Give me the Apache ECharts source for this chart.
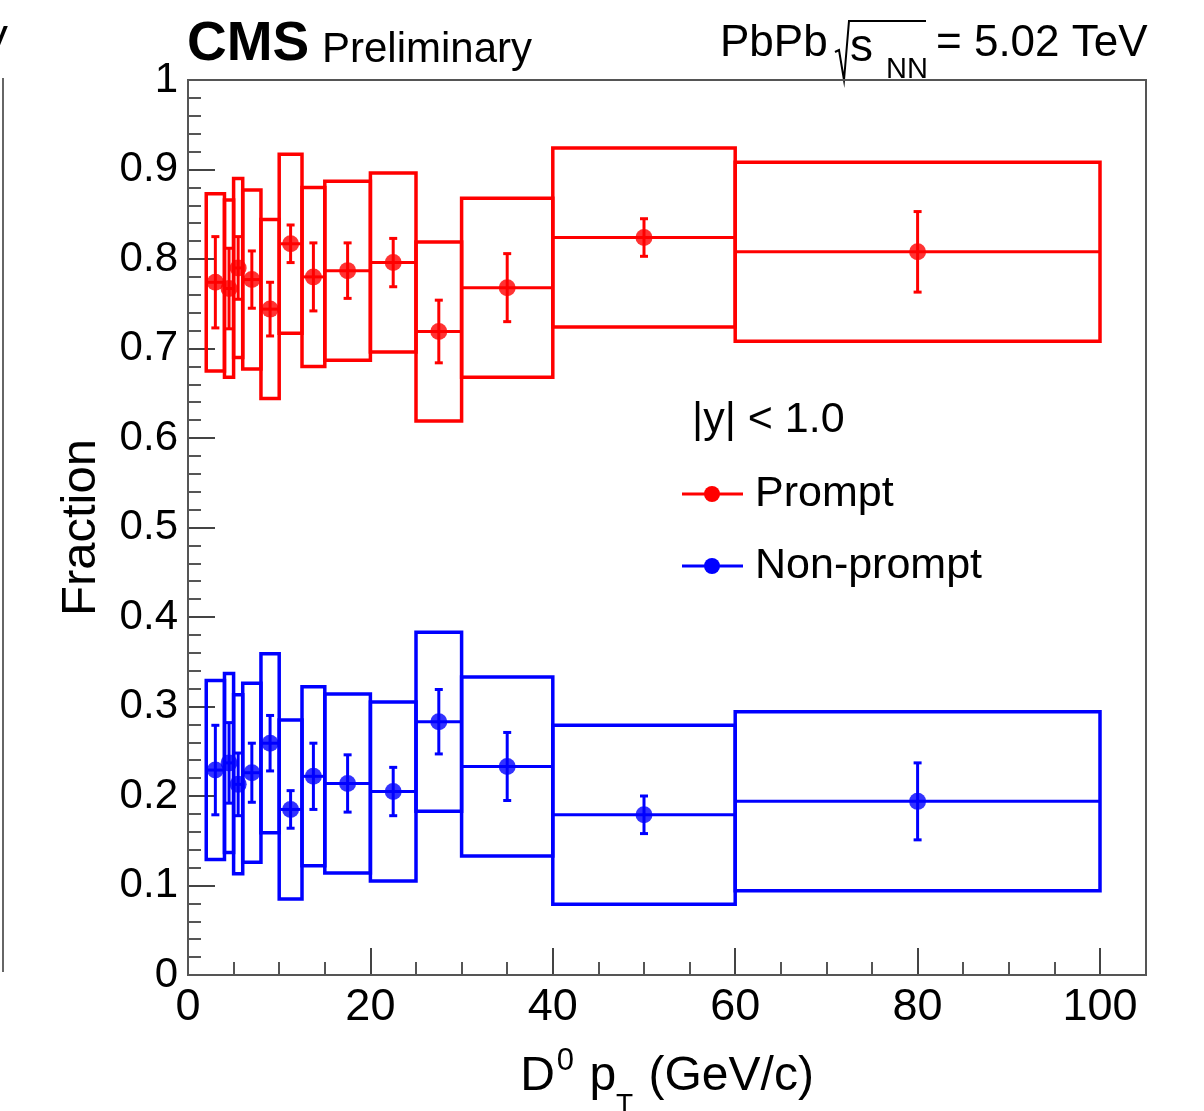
<!DOCTYPE html>
<html><head><meta charset="utf-8">
<script src="https://cdn.jsdelivr.net/npm/echarts@6/dist/echarts.min.js"></script>
<style>html,body{margin:0;padding:0;background:#fff}#c{width:1204px;height:1111px}</style>
</head><body><div id="c"></div>
<script>
// pT bins (GeV/c)
const binLow  = [2, 4, 5, 6, 8, 10, 12.5, 15, 20, 25, 30, 40, 60];
const binHigh = [4, 5, 6, 8, 10, 12.5, 15, 20, 25, 30, 40, 60, 100];
// Prompt fraction: value, statistical error, systematic error
const promptVal  = [0.774, 0.767, 0.790, 0.777, 0.744, 0.817, 0.780, 0.787, 0.796, 0.719, 0.768, 0.824, 0.808];
const promptStat = [0.051, 0.045, 0.035, 0.032, 0.030, 0.021, 0.038, 0.031, 0.027, 0.035, 0.038, 0.021, 0.045];
const promptSys  = [0.099, 0.099, 0.100, 0.100, 0.100, 0.100, 0.100, 0.100, 0.100, 0.100, 0.100, 0.100, 0.100];
// Non-prompt fraction
const nonpromptVal  = [0.229, 0.237, 0.213, 0.226, 0.259, 0.185, 0.222, 0.214, 0.205, 0.283, 0.233, 0.179, 0.194];
const nonpromptStat = [0.050, 0.045, 0.035, 0.033, 0.031, 0.021, 0.037, 0.032, 0.027, 0.036, 0.038, 0.021, 0.043];
const nonpromptSys  = [0.100, 0.100, 0.100, 0.100, 0.100, 0.100, 0.100, 0.100, 0.100, 0.100, 0.100, 0.100, 0.100];
// tick labels
const xTickLabels = ['0', '20', '40', '60', '80', '100'];
const yTickLabels = ['0', '0.1', '0.2', '0.3', '0.4', '0.5', '0.6', '0.7', '0.8', '0.9', '1'];

const FONT = 'Liberation Sans, Arial, Helvetica, sans-serif';
const RED = '#ff0000', BLUE = '#0000ff';

function rows(vals, stat, sys) {
  return vals.map((v, i) => [binLow[i], binHigh[i], v, stat[i], sys[i], (binLow[i] + binHigh[i]) / 2]);
}
function boxRender(color) {
  return function (params, api) {
    const lo = api.value(0), hi = api.value(1), v = api.value(2), s = api.value(4);
    const p1 = api.coord([lo, v + s]), p2 = api.coord([hi, v - s]);
    return { type: 'rect', shape: { x: p1[0], y: p1[1], width: p2[0] - p1[0], height: p2[1] - p1[1] },
      style: { fill: 'none', stroke: color, lineWidth: 3.5 } };
  };
}
function errRender(color) {
  return function (params, api) {
    const lo = api.value(0), hi = api.value(1), v = api.value(2), e = api.value(3), c = api.value(5);
    const a = api.coord([lo, v]), b = api.coord([hi, v]);
    const t = api.coord([c, v + e]), d = api.coord([c, v - e]);
    const st = { stroke: color, lineWidth: 3 };
    const cap = 4;
    return { type: 'group', children: [
      { type: 'line', shape: { x1: a[0], y1: a[1], x2: b[0], y2: b[1] }, style: st },
      { type: 'line', shape: { x1: t[0], y1: t[1], x2: d[0], y2: d[1] }, style: st },
      { type: 'line', shape: { x1: t[0] - cap, y1: t[1], x2: t[0] + cap, y2: t[1] }, style: st },
      { type: 'line', shape: { x1: d[0] - cap, y1: d[1], x2: d[0] + cap, y2: d[1] }, style: st }
    ] };
  };
}

const promptRows = rows(promptVal, promptStat, promptSys);
const nonpromptRows = rows(nonpromptVal, nonpromptStat, nonpromptSys);

const chart = echarts.init(document.getElementById('c'), null, { renderer: 'canvas' });
chart.setOption({
  backgroundColor: '#fff',
  animation: false,
  grid: { left: 188, top: 80, width: 912, height: 895, containLabel: false, outerBoundsMode: 'none' },
  xAxis: {
    type: 'value', min: 0, max: 100, interval: 20,
    axisLine: { show: true, onZero: false, lineStyle: { color: '#555', width: 2 } },
    axisTick: { show: true, inside: true, length: 27, lineStyle: { color: '#444', width: 2 } },
    minorTick: { show: true, splitNumber: 4, length: 13, lineStyle: { color: '#555', width: 2 } },
    splitLine: { show: false },
    axisLabel: { fontSize: 45, color: '#000', fontFamily: FONT, margin: 10,
      formatter: v => xTickLabels[Math.round(v / 20)] },
    name: 'D{sup|0} p{sub|T} (GeV/c)', nameLocation: 'middle', nameGap: 52,
    nameTextStyle: { color: '#000', fontFamily: FONT, fontSize: 48, lineHeight: 48, verticalAlign: 'middle',
      padding: [0, 0, 0, 46],
      rich: {
        sup: { fontSize: 31, lineHeight: 31, fontFamily: FONT, color: '#000', verticalAlign: 'middle', padding: [0, 2, 30, 2] },
        sub: { fontSize: 28, lineHeight: 28, fontFamily: FONT, color: '#000', verticalAlign: 'middle', padding: [56, 2, 0, 0] }
      } }
  },
  yAxis: {
    type: 'value', min: 0, max: 1, interval: 0.1,
    axisLine: { show: true, lineStyle: { color: '#555', width: 2 } },
    axisTick: { show: true, inside: true, length: 27, lineStyle: { color: '#444', width: 2 } },
    minorTick: { show: true, splitNumber: 5, length: 13, lineStyle: { color: '#555', width: 2 } },
    splitLine: { show: false },
    axisLabel: { fontSize: 42, color: '#000', fontFamily: FONT, margin: 10,
      formatter: v => yTickLabels[Math.round(v * 10)] },
    name: 'Fraction', nameLocation: 'middle', nameGap: 82, nameRotate: 90,
    nameTextStyle: { color: '#000', fontFamily: FONT, fontSize: 49 }
  },
  series: [
    { name: 'Prompt sys', type: 'custom', renderItem: boxRender(RED), data: promptRows, z: 2 },
    { name: 'Non-prompt sys', type: 'custom', renderItem: boxRender(BLUE), data: nonpromptRows, z: 2 },
    { name: 'Prompt stat', type: 'custom', renderItem: errRender(RED), data: promptRows, z: 3 },
    { name: 'Non-prompt stat', type: 'custom', renderItem: errRender(BLUE), data: nonpromptRows, z: 3 },
    { name: 'Prompt', type: 'scatter', symbol: 'circle', symbolSize: 17, itemStyle: { color: RED },
      data: promptRows.map(r => [r[5], r[2]]), z: 4 },
    { name: 'Non-prompt', type: 'scatter', symbol: 'circle', symbolSize: 17, itemStyle: { color: BLUE },
      data: nonpromptRows.map(r => [r[5], r[2]]), z: 4 }
  ],
  graphic: [
    // frame
    { type: 'rect', shape: { x: 188, y: 80, width: 958, height: 895 }, style: { fill: 'none', stroke: '#555', lineWidth: 2 }, z: 10 },
    // neighbouring panel remnant
    { type: 'line', shape: { x1: 3, y1: 78, x2: 3, y2: 972 }, style: { stroke: '#666', lineWidth: 2 } },
    { type: 'text', left: -20, top: 22, style: { text: 'V', font: '42px ' + FONT, fill: '#000' } },
    // header
    { type: 'text', x: 187, y: 45, style: { text: 'CMS', font: 'bold 55px ' + FONT, fill: '#000', verticalAlign: 'middle' } },
    { type: 'text', x: 322, y: 50, style: { text: 'Preliminary', font: '42px ' + FONT, fill: '#000', verticalAlign: 'middle' } },
    { type: 'text', x: 720, y: 44, style: { text: 'PbPb', font: '44px ' + FONT, fill: '#000', verticalAlign: 'middle' } },
    { type: 'polyline', shape: { points: [[835, 52], [839, 50], [844, 80], [849, 21], [926, 21]] }, style: { stroke: '#000', lineWidth: 2, fill: 'none' } },
    { type: 'text', x: 850, y: 48, style: { text: 's', font: '46px ' + FONT, fill: '#000', verticalAlign: 'middle' } },
    { type: 'text', x: 886, y: 70, style: { text: 'NN', font: '29px ' + FONT, fill: '#000', verticalAlign: 'middle' } },
    { type: 'text', x: 936, y: 44, style: { text: '= 5.02 TeV', font: '44px ' + FONT, fill: '#000', verticalAlign: 'middle' } },
    // legend
    { type: 'text', x: 692, y: 420, style: { text: '|y| < 1.0', font: '43px ' + FONT, fill: '#000', verticalAlign: 'middle' } },
    { type: 'line', shape: { x1: 682, y1: 494, x2: 743, y2: 494 }, style: { stroke: RED, lineWidth: 3 } },
    { type: 'circle', shape: { cx: 712, cy: 494, r: 8 }, style: { fill: RED } },
    { type: 'text', x: 755, y: 494, style: { text: 'Prompt', font: '43px ' + FONT, fill: '#000', verticalAlign: 'middle' } },
    { type: 'line', shape: { x1: 682, y1: 566, x2: 743, y2: 566 }, style: { stroke: BLUE, lineWidth: 3 } },
    { type: 'circle', shape: { cx: 712, cy: 566, r: 8 }, style: { fill: BLUE } },
    { type: 'text', x: 755, y: 566, style: { text: 'Non-prompt', font: '43px ' + FONT, fill: '#000', verticalAlign: 'middle' } }
  ]
});
</script></body></html>
